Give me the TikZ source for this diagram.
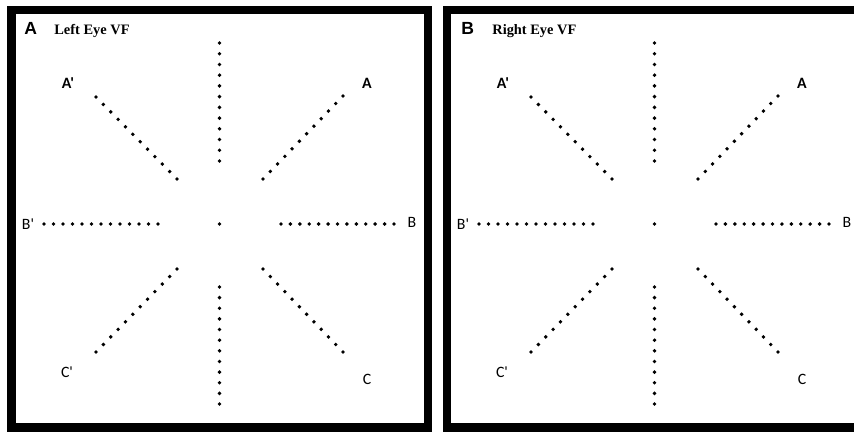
\documentclass[tikz,border=0pt]{standalone}
\usepackage{fontspec}
\setmainfont{Liberation Serif}
\newfontfamily\labfont{Carlito}
\newfontfamily\panfont{Liberation Sans}
\usetikzlibrary{calc}
\newcommand\vfdots[5]{\foreach \k in {0,...,#5}{\fill ($(#1,#2)!\k/#5!(#3,#4)$) circle (1.1pt);}}
\begin{document}
\begin{tikzpicture}[x=0.02cm,y=-0.02cm,
  frame/.style={draw=black,line width=5.1pt},
  panlet/.style={anchor=base west,inner sep=0pt,font=\panfont\bfseries\fontsize{10}{11}\selectfont},
  pantitle/.style={anchor=base west,inner sep=0pt,font=\bfseries\fontsize{8.2}{10}\selectfont},
  blab/.style={inner sep=0pt,font=\labfont\bfseries\fontsize{9}{10}\selectfont},
  rlab/.style={inner sep=0pt,font=\labfont\fontsize{9}{10}\selectfont}]
\useasboundingbox (0,0) rectangle (854,432);
\clip (0,0) rectangle (854,432);
\fill[white] (0,0) rectangle (854,432);
% frames
\draw[frame] (11.5,10) rectangle (428,427.5);
\draw[frame] (447,10) rectangle (900,427.5);
% titles
\node[panlet] (letA) at (24,35) {A};
\node[pantitle] (titleL) at (54,35) {Left Eye VF};
\node[panlet] (letB) at (461,35) {B};
\node[pantitle] (titleR) at (492,35) {Right Eye VF};
% dots and labels for both panels
\foreach \dx/\s in {0/L,435/R}{
  \fill (\dx+219.5,224) circle (1.1pt);
  \vfdots{\dx+219.5}{43}{\dx+219.5}{161}{11}
  \vfdots{\dx+219.5}{287}{\dx+219.5}{404}{11}
  \vfdots{\dx+44}{224}{\dx+158}{224}{12}
  \vfdots{\dx+281}{224}{\dx+394}{224}{12}
  \vfdots{\dx+96}{97}{\dx+177}{179}{11}
  \vfdots{\dx+343}{96}{\dx+263}{179}{11}
  \vfdots{\dx+177}{269}{\dx+96}{352}{11}
  \vfdots{\dx+263}{269}{\dx+343}{352}{11}
  \node[blab] (Ap\s) at (\dx+68,83) {A'};
  \node[blab] (A\s) at (\dx+367,83) {A};
  \node[rlab] (Bp\s) at (\dx+28,224) {B'};
  \node[rlab] (B\s) at (\dx+412,222) {B};
  \node[rlab] (Cp\s) at (\dx+67,372) {C'};
  \node[rlab] (C\s) at (\dx+367,379) {C};
}
\end{tikzpicture}
\end{document}
